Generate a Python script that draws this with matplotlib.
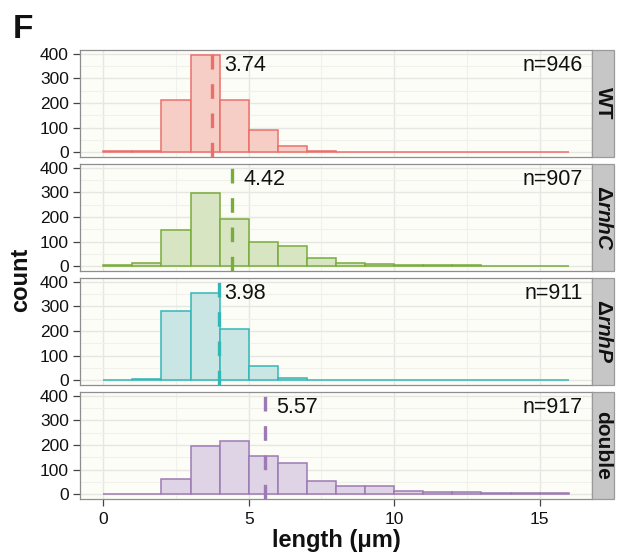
import numpy as np
import matplotlib
matplotlib.use("Agg")
import matplotlib.pyplot as plt
from matplotlib.patches import Rectangle

plt.rcParams['font.family'] = ['Liberation Sans', 'DejaVu Sans']
plt.rcParams['mathtext.fontset'] = 'custom'
plt.rcParams['mathtext.rm'] = 'Liberation Sans'
plt.rcParams['mathtext.it'] = 'Liberation Sans:italic'
plt.rcParams['mathtext.bf'] = 'Liberation Sans:bold'
plt.rcParams['mathtext.bfit'] = 'Liberation Sans:italic:bold'

# ---- data -------------------------------------------------------------
bin_edges = list(range(0, 17))          # 1 µm bins from 0 to 16 µm
strains = ["WT", r"$\mathbf{\Delta}\mathbfit{rnhC}$",
           r"$\mathbf{\Delta}\mathbfit{rnhP}$", "double"]

counts_wt = [3, 3, 212, 395, 212, 88, 23, 5, 2, 1, 1, 1, 0, 0, 0, 0]
counts_rnhc = [3, 14, 148, 296, 192, 100, 83, 34, 13, 7, 6, 4, 3, 2, 1, 1]
counts_rnhp = [0, 4, 282, 352, 207, 56, 9, 1, 0, 0, 0, 0, 0, 0, 0, 0]
counts_double = [0, 2, 63, 194, 215, 153, 125, 54, 35, 33, 14, 10, 7, 3, 6, 3]

mean_lengths = [3.74, 4.42, 3.98, 5.57]
n_cells = [946, 907, 911, 917]

x_ticks = [0, 5, 10, 15]
y_ticks = [0, 100, 200, 300, 400]

# ---- styling ----------------------------------------------------------
edge_colors = ["#EA6F6C", "#79AC3C", "#33B7B5", "#9D7AB3"]
fill_colors = ["#F7CEC6", "#D7E5C3", "#CAE6E4", "#DFD4E5"]
mean_label_dx = [0.43, 0.41, 0.19, 0.36]

W, H = 619, 554
fig = plt.figure(figsize=(W / 100, H / 100), dpi=100)

left_px, right_px = 80, 592
strip_right_px = 614
panel_tops = [50, 164, 278, 392]
panel_h = 107

all_counts = [counts_wt, counts_rnhc, counts_rnhp, counts_double]
ymax = max(max(c) for c in all_counts)
ylim = (-0.05 * ymax, 1.05 * ymax)
xspan = bin_edges[-1] - bin_edges[0]
xlim = (bin_edges[0] - 0.05 * xspan, bin_edges[-1] + 0.05 * xspan)

axes = []
for i, counts in enumerate(all_counts):
    top = panel_tops[i]
    ax = fig.add_axes([left_px / W, 1 - (top + panel_h) / H,
                       (right_px - left_px) / W, panel_h / H])
    axes.append(ax)
    ax.set_facecolor("#FDFDF8")
    ax.set_xlim(*xlim)
    ax.set_ylim(*ylim)

    # grid: major and minor
    ax.set_xticks(x_ticks)
    ax.set_xticks([2.5, 7.5, 12.5], minor=True)
    ax.set_yticks(y_ticks)
    ax.set_yticks([50, 150, 250, 350], minor=True)
    ax.grid(True, which="major", color="#E6E6E2", linewidth=1.0)
    ax.grid(True, which="minor", color="#F1F1EC", linewidth=0.8)
    ax.set_axisbelow(True)

    lefts = bin_edges[:-1]
    ax.bar(lefts, counts, width=1.0, align="edge",
           color=fill_colors[i], edgecolor=edge_colors[i], linewidth=1.1,
           zorder=2)

    # mean marker
    ln, = ax.plot([mean_lengths[i], mean_lengths[i]], [ylim[0], ylim[1]],
                  color=edge_colors[i], linewidth=2.4, zorder=3,
                  solid_capstyle="butt", dash_capstyle="butt")
    ln.set_dashes([4.4, 4.4])

    ax.text(mean_lengths[i] + mean_label_dx[i], 0.855, f"{mean_lengths[i]:.2f}",
            transform=ax.get_xaxis_transform(), ha="left", va="center",
            fontsize=15.5, color="#111111", zorder=4)
    ax.text(0.982, 0.855, f"n={n_cells[i]}", transform=ax.transAxes,
            ha="right", va="center", fontsize=15.5, color="#111111", zorder=4)

    for sp in ax.spines.values():
        sp.set_color("#8E8E8E")
        sp.set_linewidth(0.9)

    ax.tick_params(axis="y", which="major", length=5, width=0.9,
                   color="#444444", labelsize=12.5, pad=3,
                   labelcolor="#111111")
    ax.tick_params(axis="both", which="minor", length=0)
    if i < 3:
        ax.tick_params(axis="x", which="major", length=0, labelbottom=False)
    else:
        ax.tick_params(axis="x", which="major", length=5, width=0.9,
                       color="#444444", labelsize=12.5, pad=4,
                       labelcolor="#111111")

    # facet strip on the right
    strip = Rectangle((right_px / W, 1 - (top + panel_h) / H),
                      (strip_right_px - right_px) / W, panel_h / H,
                      transform=fig.transFigure, facecolor="#C6C6C6",
                      edgecolor="#9A9A9A", linewidth=0.9)
    fig.patches.append(strip)
    fig.text((right_px + strip_right_px) / 2 / W,
             1 - (top + panel_h / 2) / H, strains[i],
             rotation=-90, ha="center", va="center", fontsize=15,
             fontweight="bold", color="#111111")

fig.text(21 / W, 1 - 280 / H, "count", rotation=90, ha="center",
         va="center", fontsize=17, fontweight="bold", color="#111111")
fig.text((left_px + right_px) / 2 / W, 1 - 540 / H, "length (μm)",
         ha="center", va="center", fontsize=17, fontweight="bold",
         color="#111111")
fig.text(13 / W, 1 - 38 / H, "F", ha="left", va="baseline", fontsize=24,
         fontweight="bold", color="#111111")

fig.savefig("out.png", dpi=100)
